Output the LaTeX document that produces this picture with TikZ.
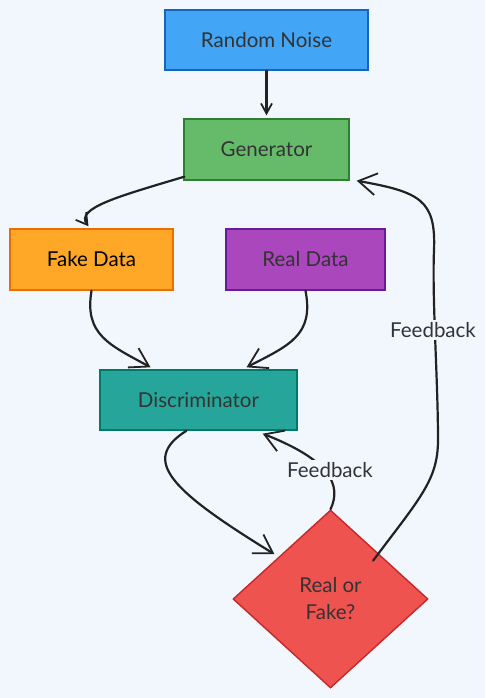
\documentclass[tikz,border=0pt]{standalone}
\usepackage{fontspec}
\setmainfont{Lato}
\usetikzlibrary{arrows.meta,shapes.geometric}
\definecolor{bg}{HTML}{F2F7FE}
\definecolor{txt}{HTML}{333333}
\definecolor{edge}{HTML}{222222}
\definecolor{cNoise}{HTML}{42A5F5}\definecolor{dNoise}{HTML}{1565C0}
\definecolor{cGen}{HTML}{66BB6A}\definecolor{dGen}{HTML}{2E7D32}
\definecolor{cFake}{HTML}{FFA726}\definecolor{dFake}{HTML}{EF6C00}
\definecolor{cReal}{HTML}{AB47BC}\definecolor{dReal}{HTML}{6A1B9A}
\definecolor{cDisc}{HTML}{26A69A}\definecolor{dDisc}{HTML}{00796B}
\definecolor{cDec}{HTML}{EF5350}\definecolor{dDec}{HTML}{C62828}
\begin{document}
\begin{tikzpicture}[x=1pt,y=-1pt,
  txtfont/.style={font=\fontsize{20.5}{27}\selectfont},
  box/.style={rectangle, line width=1.4pt, inner sep=0pt, text=txt, txtfont},
  conn/.style={draw=edge, line width=2.2pt, line cap=round,
    -{Straight Barb[length=18pt,width=22pt,line width=1.8pt]}},
  smallconn/.style={conn, -{Straight Barb[length=10pt,width=11pt,line width=1.8pt]}},
  midconn/.style={conn, -{Straight Barb[length=11pt,width=13pt,line width=1.8pt]}},
  lbl/.style={fill=bg, inner sep=2pt, text=txt, txtfont}]
\fill[bg] (0,0) rectangle (485,698);
\useasboundingbox (0,0) rectangle (485,698);

\node[box, fill=cNoise, draw=dNoise, minimum width=203pt, minimum height=60pt] (noise) at (266.5,40) {Random Noise};
\node[box, fill=cGen, draw=dGen, minimum width=165pt, minimum height=61pt] (gen) at (266.5,149.5) {Generator};
\node[box, fill=cFake, draw=dFake, minimum width=163pt, minimum height=61pt, text=black] (fake) at (91.5,259.5) {Fake Data};
\node[box, fill=cReal, draw=dReal, minimum width=159pt, minimum height=61pt] (real) at (305.5,259.5) {Real Data};
\node[box, fill=cDisc, draw=dDisc, minimum width=197pt, minimum height=60pt] (disc) at (198.5,400) {Discriminator};
\node[diamond, fill=cDec, draw=dDec, line width=1.4pt, minimum width=195pt, minimum height=178pt, inner sep=0pt, align=center, text=txt, txtfont] (dec) at (330.5,599) {Real or\\Fake?};

\draw[smallconn] (noise.south) -- ([yshift=3pt]gen.north);
\draw[midconn] ([shift={(1pt,4pt)}]gen.south west) .. controls (120,196) and (75,208) .. ([shift={(-3pt,2pt)}]fake.north);
\draw[conn] (fake.south) .. controls (84,335) and (110,345) .. ([shift={(-48pt,2pt)}]disc.north);
\draw[conn] (real.south) .. controls (314,335) and (290,345) .. ([shift={(48pt,2pt)}]disc.north);
\draw[conn] ([xshift=-12pt]disc.south) .. controls (140,460) and (170,490) .. ([xshift=-7pt]dec.north west);
\draw[conn] (dec.north) .. controls (342,485) and (330,460) .. ([shift={(-35pt,-3pt)}]disc.south east);
\node[lbl] (fb1) at (330,470) {Feedback};
\draw[conn] ([shift={(-6.5pt,-6.5pt)}]dec.north east) .. controls (420,498) and (438,480) .. (438,440) .. controls (438,380) and (432,300) .. (434,250) .. controls (436,200) and (420,192) .. ([xshift=7pt]gen.south east);
\node[lbl] (fb2) at (433,330) {Feedback};
\end{tikzpicture}
\end{document}
